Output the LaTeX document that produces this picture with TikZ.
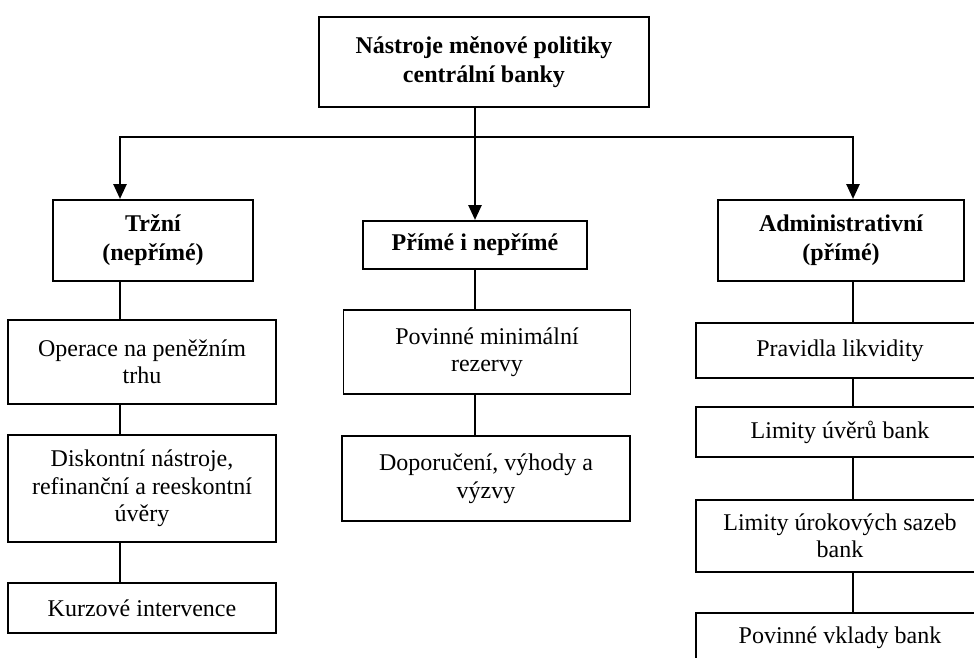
\documentclass[tikz,border=0pt]{standalone}
\usepackage{fontspec}
\setmainfont{Liberation Serif}
\usetikzlibrary{arrows.meta}

\begin{document}
\begin{tikzpicture}[x=1pt,y=-1pt,
		box/.style={draw, line width=1.6pt, align=center, inner sep=2pt,
			font=\fontsize{24}{27.5}\selectfont},
		headbox/.style={box, line width=2pt, font=\fontsize{24}{29}\selectfont\bfseries},
		link/.style={line width=1.6pt},
		mainline/.style={line width=2.6pt},
		mainarrow/.style={mainline, -{Triangle[length=15pt,width=13pt]}}]
	\useasboundingbox (0,0) rectangle (974,657);

	% Root
	\node[headbox, line width=2.4pt, minimum width=330pt, minimum height=90pt] (root) at (484,62) {Nástroje měnové politiky\\centrální banky};

	% Branch points on the bar
	\coordinate (lx) at (120,137);
	\coordinate (mx) at (475,137);
	\coordinate (rx) at (853,137);

	% Three kinds of tools
	\node[headbox, minimum width=200pt, minimum height=81pt] (trzni) at (153,240.5) {Tržní\\(nepřímé)};
	\node[headbox, minimum width=224pt, minimum height=48pt] (obe) at (475,245) {Přímé i nepřímé};
	\node[headbox, minimum width=246pt, minimum height=81pt] (admin) at (841,240.5) {Administrativní\\(přímé)};

	% Left column
	\node[box, minimum width=268pt, minimum height=84pt] (operace) at (142,362) {Operace na peněžním\\trhu};
	\node[box, minimum width=268pt, minimum height=107pt] (diskont) at (142,488.5) {Diskontní nástroje,\\refinanční a reeskontní\\úvěry};
	\node[box, minimum width=268pt, minimum height=50pt] (kurz) at (142,608) {Kurzové intervence};

	% Middle column
	\node[box, minimum width=287pt, minimum height=84pt] (rezervy) at (487,352) {Povinné minimální\\rezervy};
	\node[box, minimum width=288pt, minimum height=85pt] (vyzvy) at (486,478.5) {Doporučení, výhody a\\výzvy};

	% Right column
	\node[box, minimum width=288pt, minimum height=55pt] (likvid) at (840,350.5) {Pravidla likvidity};
	\node[box, minimum width=288pt, minimum height=50pt] (uvery) at (840,432) {Limity úvěrů bank};
	\node[box, minimum width=288pt, minimum height=72pt] (sazby) at (840,536) {Limity úrokových sazeb\\bank};
	\node[box, minimum width=288pt, minimum height=50pt] (vklady) at (840,638) {Povinné vklady bank};

	% Arrows from the root
	\draw[mainline] (root.south -| mx) -- (mx);
	\draw[mainarrow] (mx) -| (trzni.north -| lx);
	\draw[mainarrow] (mx) -| (admin.north -| rx);
	\draw[mainarrow] (mx) -- (obe.north -| mx);

	% Links inside the columns
	\draw[link] (trzni.south -| lx) -- (operace.north -| lx);
	\draw[link] (operace.south -| lx) -- (diskont.north -| lx);
	\draw[link] (diskont.south -| lx) -- (kurz.north -| lx);
	\draw[link] (obe.south -| mx) -- (rezervy.north -| mx);
	\draw[link] (rezervy.south -| mx) -- (vyzvy.north -| mx);
	\draw[link] (admin.south -| rx) -- (likvid.north -| rx);
	\draw[link] (likvid.south -| rx) -- (uvery.north -| rx);
	\draw[link] (uvery.south -| rx) -- (sazby.north -| rx);
	\draw[link] (sazby.south -| rx) -- (vklady.north -| rx);

\end{tikzpicture}
\end{document}
